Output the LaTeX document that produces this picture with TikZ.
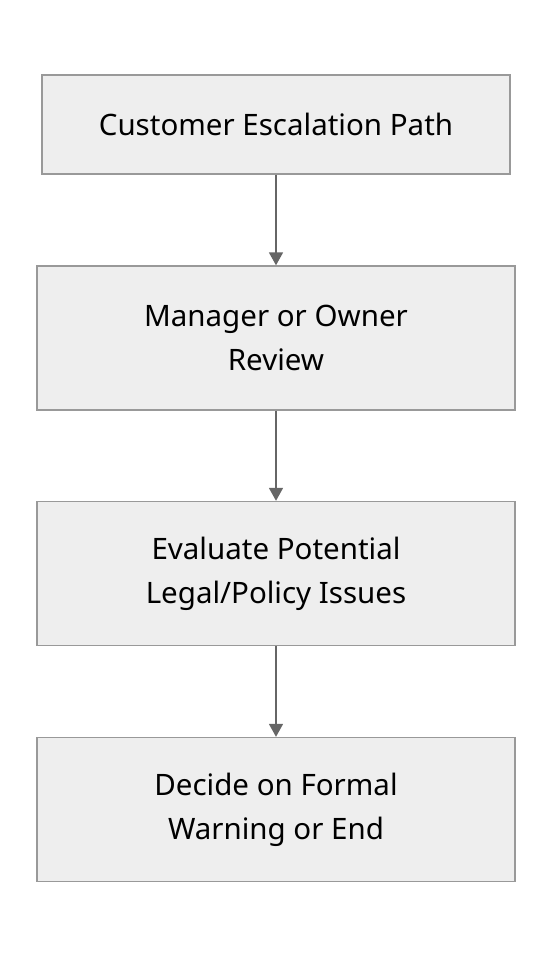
\documentclass[tikz,border=0pt]{standalone}
\usepackage{fontspec}
\setmainfont{Noto Sans}
\usetikzlibrary{arrows.meta}
\definecolor{boxfill}{HTML}{EEEEEE}
\definecolor{boxline}{HTML}{999999}
\definecolor{arrowline}{HTML}{666666}
\begin{document}
\begin{tikzpicture}[x=1pt,y=-1pt,
           box_style/.style={rectangle,draw=boxline,fill=boxfill,line width=1.4pt,
             align=center,font=\fontsize{29.5}{44}\selectfont,inner sep=0pt},
           edge_style/.style={draw=arrowline,line width=1.8pt,
             -{Triangle[width=14pt,length=13pt]}}]
            \useasboundingbox (0,0) rectangle (552,956);
            \node[box_style,minimum width=468pt,minimum height=99pt] (v0) at (276, 124.5) {Customer Escalation Path};
            \node[box_style,minimum width=478pt,minimum height=144pt] (v1) at (276, 338) {Manager or Owner\\Review};
            \node[box_style,minimum width=478pt,minimum height=144pt] (v2) at (276, 573.5) {Evaluate Potential\\Legal/Policy Issues};
            \node[box_style,minimum width=478pt,minimum height=144pt] (v3) at (276, 809.5) {Decide on Formal\\Warning or End};
            \draw[edge_style]  (v0) -- (v1);
            \draw[edge_style]  (v1) -- (v2);
            \draw[edge_style]  (v2) -- (v3);
        \end{tikzpicture}
\end{document}
